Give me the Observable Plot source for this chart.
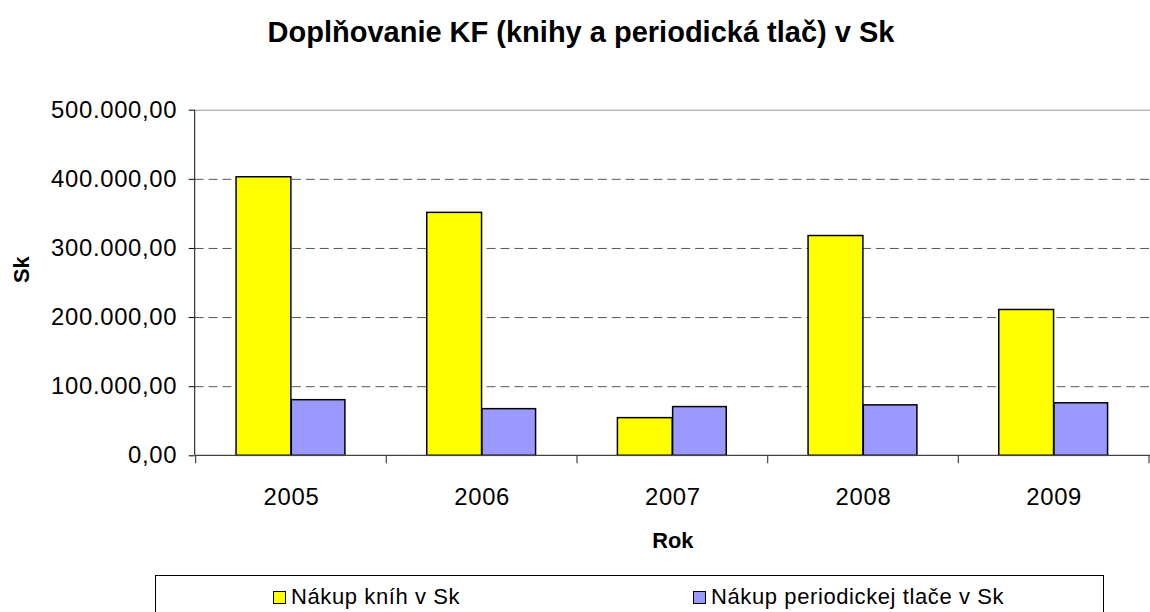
<!DOCTYPE html>
<html>
<head>
<meta charset="utf-8">
<script src="https://cdn.jsdelivr.net/npm/d3@7"></script>
<script src="https://cdn.jsdelivr.net/npm/@observablehq/plot@0.6"></script>
<style>
  html, body { margin: 0; padding: 0; background: #fff; }
  body { width: 1150px; height: 612px; overflow: hidden; position: relative; font-family: "Liberation Sans", Arial, sans-serif; }
  #title { position: absolute; left: 0; width: 1162px; top: 16px; text-align: center; font-weight: bold; font-size: 29px; color: #000; }
  #chart { position: absolute; left: 0; top: 70px; }
  #legend { position: absolute; left: 155px; top: 575px; width: 949px; height: 60px; border: 1px solid #000; box-sizing: border-box; }
  .item { position: absolute; top: 8px; font-size: 22px; letter-spacing: 0.6px; color: #000; display: flex; align-items: center; white-space: nowrap; }
  .sw { width: 11px; height: 11px; border: 1px solid #000; margin-right: 5px; }
</style>
</head>
<body>
<div id="title">Doplňovanie KF (knihy a periodická tlač) v Sk</div>
<div id="chart"></div>
<div id="legend"></div>
<script>
const years = ["2005", "2006", "2007", "2008", "2009"];
const books = [403000, 351500, 54500, 318000, 211000];
const periodicals = [80500, 67500, 70500, 73000, 76000];
const seriesNames = ["Nákup kníh v Sk", "Nákup periodickej tlače v Sk"];
const seriesColors = ["#FFFF00", "#9999FF"];
const yTicks = [0, 100000, 200000, 300000, 400000, 500000];
const yTickLabels = ["0,00", "100.000,00", "200.000,00", "300.000,00", "400.000,00", "500.000,00"];
const xTitle = "Rok";
const yTitle = "Sk";

const rows = [];
years.forEach((y, i) => {
  rows.push({year: y, series: seriesNames[0], value: books[i]});
  rows.push({year: y, series: seriesNames[1], value: periodicals[i]});
});

const axesMark = (index, scales, values, dimensions) => {
  const {x, y} = scales;
  const g = d3.create("svg:g");
  const x0 = dimensions.marginLeft;
  const x1 = dimensions.width - dimensions.marginRight;
  const yb = y(0), yt = y(500000);
  g.append("line").attr("x1", x0).attr("x2", x0).attr("y1", yt).attr("y2", yb)
    .attr("stroke", "#333").attr("stroke-width", 1.2);
  g.append("line").attr("x1", x0).attr("x2", x1).attr("y1", yb).attr("y2", yb)
    .attr("stroke", "#444").attr("stroke-width", 1.2);
  const bounds = years.map(d => x(d)).concat([x(years[years.length - 1]) + x.bandwidth()]);
  bounds.forEach(b => {
    g.append("line").attr("x1", b).attr("x2", b).attr("y1", yb).attr("y2", yb + 8)
      .attr("stroke", "#444").attr("stroke-width", 1.2);
  });
  return g.node();
};

const chart = Plot.plot({
  width: 1158,
  height: 490,
  marginLeft: 196,
  marginRight: 0,
  marginTop: 40,
  marginBottom: 102,
  style: {fontFamily: "'Liberation Sans', Arial, sans-serif", fontSize: "24px", color: "#000", background: "transparent", overflow: "visible", letterSpacing: "0.7px"},
  x: {type: "band", domain: years, paddingInner: 0, paddingOuter: 0, tickSize: 0, tickPadding: 32, label: null},
  y: {domain: [0, 500000], ticks: yTicks, tickFormat: d => yTickLabels[yTicks.indexOf(d)], tickSize: 6, tickPadding: 12, label: null},
  marks: [
    Plot.ruleY(yTicks.filter(d => d > 0 && d < 500000), {stroke: "#555", strokeDasharray: "9,5", strokeWidth: 1}),
    Plot.ruleY([500000], {stroke: "#999", strokeWidth: 1}),
    Plot.barY(rows.filter(d => d.series === seriesNames[0]), {x: "year", y: "value", fill: seriesColors[0], stroke: "#000", strokeWidth: 1.5, insetLeft: 40.7, insetRight: 96.1}),
    Plot.barY(rows.filter(d => d.series === seriesNames[1]), {x: "year", y: "value", fill: seriesColors[1], stroke: "#000", strokeWidth: 1.5, insetLeft: 96.3, insetRight: 41.7}),
    axesMark,
    Plot.text([xTitle], {frameAnchor: "bottom", lineAnchor: "middle", dy: 86, text: d => d, fontWeight: "bold", fontSize: 22}),
    Plot.text([yTitle], {frameAnchor: "left", dx: -174, text: d => d, fontWeight: "bold", fontSize: 22, rotate: -90})
  ]
});
d3.select(chart).selectAll("text")
  .filter(function() { return this.textContent === xTitle || this.textContent === yTitle; })
  .style("letter-spacing", "0px");
document.getElementById("chart").appendChild(chart);

const legend = document.getElementById("legend");
const legendX = [117, 537];
seriesNames.forEach((name, i) => {
  const item = document.createElement("div");
  item.className = "item";
  item.style.left = legendX[i] + "px";
  const sw = document.createElement("div");
  sw.className = "sw";
  sw.style.background = seriesColors[i];
  item.appendChild(sw);
  const t = document.createElement("span");
  t.textContent = name;
  item.appendChild(t);
  legend.appendChild(item);
});
</script>
</body>
</html>
